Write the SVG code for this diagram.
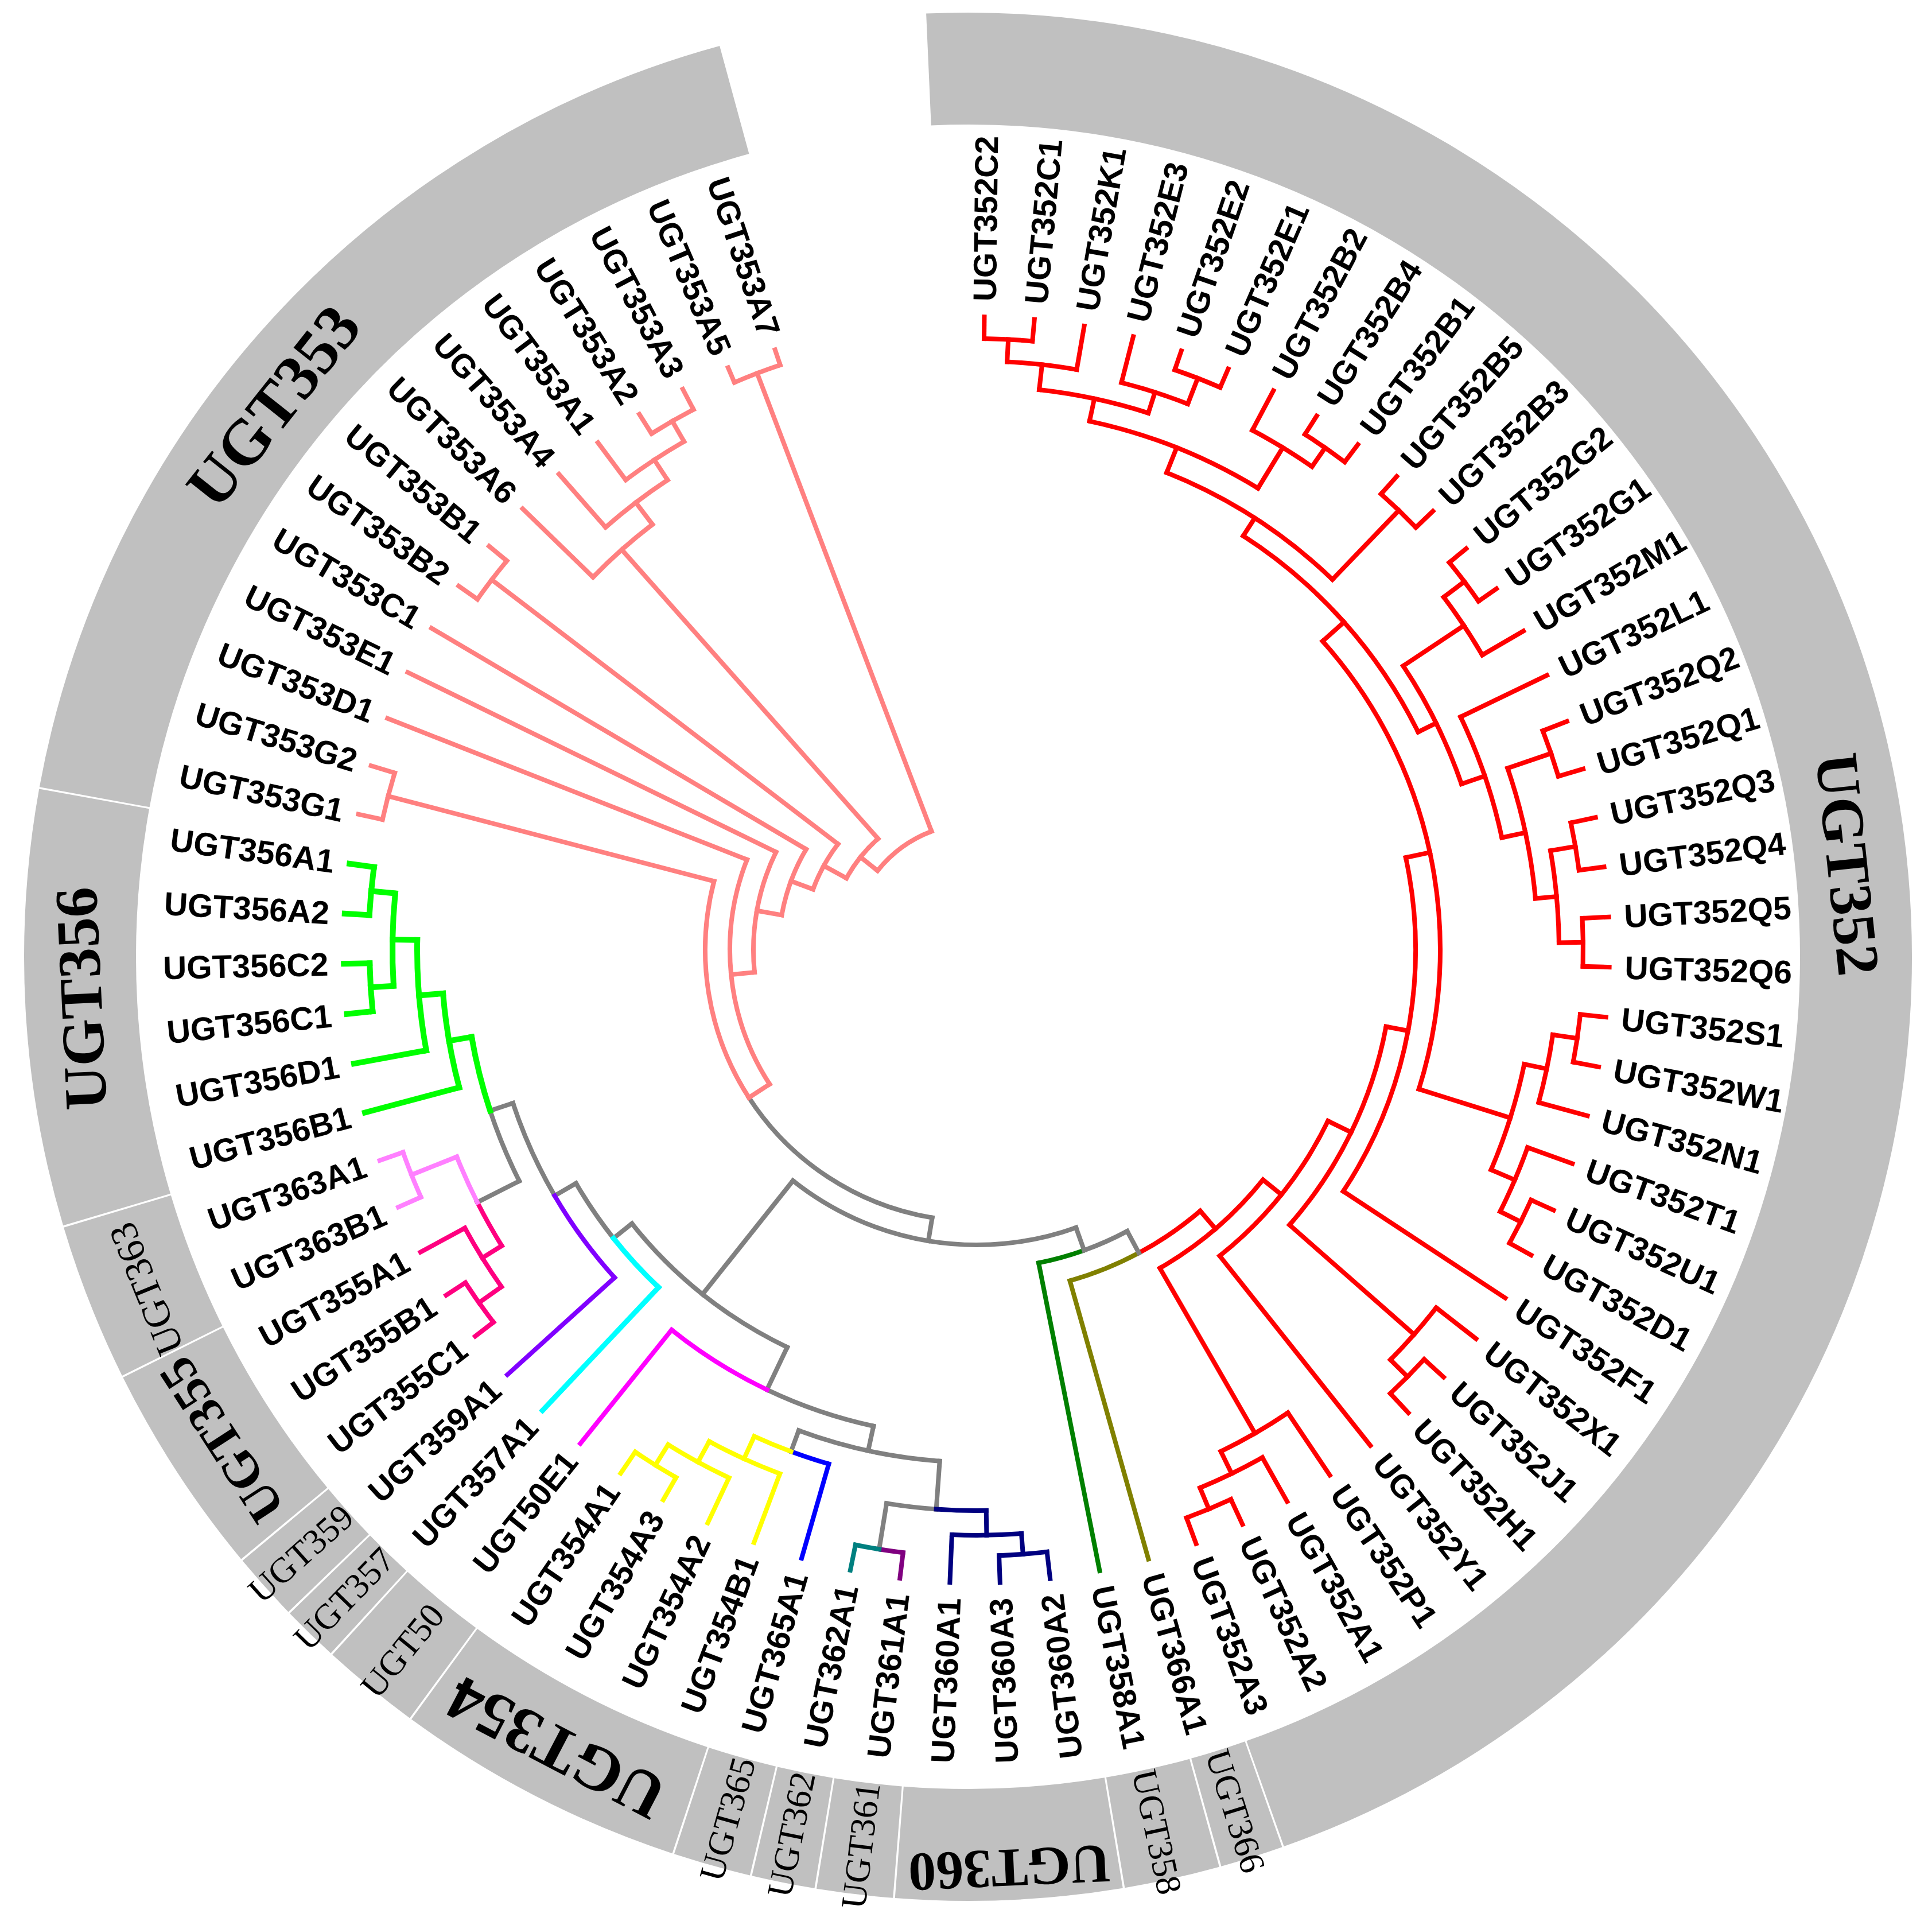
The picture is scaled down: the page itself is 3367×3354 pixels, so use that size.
<svg xmlns="http://www.w3.org/2000/svg" width="3367" height="3354" viewBox="0 0 3367 3354">
<style>
.b{fill:none;stroke-width:8;stroke-linecap:square}
.r{stroke:#ff0000}.p{stroke:#ff8080}.g{stroke:#808080}.gr{stroke:#00ff00;stroke-width:10}.lp{stroke:#ff80ff}.dp{stroke:#ff0080}
.pu{stroke:#8000ff}.cy{stroke:#00ffff;stroke-width:9}.mg{stroke:#ff00ff}.ye{stroke:#ffff00}.bl{stroke:#0000ff}.te{stroke:#008080}
.pm{stroke:#800080}.nv{stroke:#000080}.dg{stroke:#008000}.ol{stroke:#808000}
.seg{fill:none;stroke:#c0c0c0;stroke-width:195}
.lf{font-family:"Liberation Sans",Arial,sans-serif;font-weight:bold;font-size:57px;fill:#000}
.rl{font-family:"Liberation Serif","Times New Roman",serif;fill:#000;text-anchor:middle}
.big{font-weight:bold}
</style>
<rect width="3367" height="3354" fill="#fff"/>
<g id="ring" transform="translate(1687 1667)">
<g id="seg-UGT352"><circle class="seg" r="1547.5" pathLength="360" stroke-dasharray="162.98 400" transform="rotate(267.46)"/><text class="rl big" font-size="106" transform="rotate(84)" y="-1542" dy="0.34em">UGT352</text></g>
<g id="seg-UGT366"><circle class="seg" r="1547.5" pathLength="360" stroke-dasharray="3.88 400" transform="rotate(70.56)"/><text class="rl" font-size="62" transform="rotate(72.6)" x="1560" dy="0.34em">UGT366</text></g>
<g id="seg-UGT358"><circle class="seg" r="1547.5" pathLength="360" stroke-dasharray="5.88 400" transform="rotate(74.56)"/><text class="rl" font-size="62" transform="rotate(77.8)" x="1560" dy="0.34em">UGT358</text></g>
<g id="seg-UGT360"><circle class="seg" r="1547.5" pathLength="360" stroke-dasharray="13.88 400" transform="rotate(80.56)"/><text class="rl big" font-size="96" transform="rotate(177.4)" y="-1590" dy="0.34em">UGT360</text></g>
<g id="seg-UGT361"><circle class="seg" r="1547.5" pathLength="360" stroke-dasharray="4.68 400" transform="rotate(94.56)"/><text class="rl" font-size="62" transform="rotate(276.9)" x="-1560" dy="0.34em">UGT361</text></g>
<g id="seg-UGT362"><circle class="seg" r="1547.5" pathLength="360" stroke-dasharray="3.88 400" transform="rotate(99.36)"/><text class="rl" font-size="62" transform="rotate(281.4)" x="-1560" dy="0.34em">UGT362</text></g>
<g id="seg-UGT365"><circle class="seg" r="1547.5" pathLength="360" stroke-dasharray="4.78 400" transform="rotate(103.36)"/><text class="rl" font-size="62" transform="rotate(285.6)" x="-1560" dy="0.34em">UGT365</text></g>
<g id="seg-UGT354"><circle class="seg" r="1547.5" pathLength="360" stroke-dasharray="17.88 400" transform="rotate(108.26)"/><text class="rl big" font-size="112" transform="rotate(207.5)" y="-1555" dy="0.34em">UGT354</text></g>
<g id="seg-UGT50"><circle class="seg" r="1547.5" pathLength="360" stroke-dasharray="6.08 400" transform="rotate(126.26)"/><text class="rl" font-size="62" transform="rotate(309.2)" x="-1560" dy="0.34em">UGT50</text></g>
<g id="seg-UGT357"><circle class="seg" r="1547.5" pathLength="360" stroke-dasharray="3.48 400" transform="rotate(132.46)"/><text class="rl" font-size="62" transform="rotate(314.2)" x="-1560" dy="0.34em">UGT357</text></g>
<g id="seg-UGT359"><circle class="seg" r="1547.5" pathLength="360" stroke-dasharray="4.18 400" transform="rotate(136.06)"/><text class="rl" font-size="62" transform="rotate(318.2)" x="-1560" dy="0.34em">UGT359</text></g>
<g id="seg-UGT355"><circle class="seg" r="1547.5" pathLength="360" stroke-dasharray="13.18 400" transform="rotate(140.36)"/><text class="rl big" font-size="88" transform="rotate(237.1)" y="-1550" dy="0.34em">UGT355</text></g>
<g id="seg-UGT363"><circle class="seg" r="1547.5" pathLength="360" stroke-dasharray="9.68 400" transform="rotate(153.66)"/><text class="rl" font-size="68" transform="rotate(248)" y="-1545" dy="0.34em">UGT363</text></g>
<g id="seg-UGT356"><circle class="seg" r="1547.5" pathLength="360" stroke-dasharray="26.78 400" transform="rotate(163.46)"/><text class="rl big" font-size="106" transform="rotate(267.3)" y="-1548" dy="0.34em">UGT356</text></g>
<g id="seg-UGT353"><circle class="seg" r="1547.5" pathLength="360" stroke-dasharray="64.38 400" transform="rotate(190.36)"/><text class="rl big" font-size="112" transform="rotate(308.4)" y="-1545" dy="0.34em">UGT353</text></g>
</g>
<g id="tree" transform="translate(1702 1655)">
<g id="connectors" class="b">
<line class="r" y1="-1065" y2="-1103" transform="rotate(0.7)"/>
<line class="r" y1="-1065" y2="-1103" transform="rotate(5.24)"/>
<line class="r" y1="-1026" y2="-1103" transform="rotate(9.79)"/>
<line class="r" y1="-1020" y2="-1103" transform="rotate(14.33)"/>
<line class="r" y1="-1068" y2="-1103" transform="rotate(18.87)"/>
<line class="r" y1="-1068" y2="-1103" transform="rotate(23.42)"/>
<line class="r" y1="-1025" y2="-1103" transform="rotate(27.96)"/>
<line class="r" y1="-1065" y2="-1103" transform="rotate(32.5)"/>
<line class="r" y1="-1065" y2="-1103" transform="rotate(37.04)"/>
<line class="r" y1="-1062" y2="-1103" transform="rotate(41.59)"/>
<line class="r" y1="-1062" y2="-1103" transform="rotate(46.13)"/>
<line class="r" y1="-1065" y2="-1103" transform="rotate(50.67)"/>
<line class="r" y1="-1065" y2="-1103" transform="rotate(55.22)"/>
<line class="r" y1="-1020" y2="-1103" transform="rotate(59.76)"/>
<line class="r" y1="-936" y2="-1103" transform="rotate(64.3)"/>
<line class="r" y1="-1058" y2="-1103" transform="rotate(68.85)"/>
<line class="r" y1="-1058" y2="-1103" transform="rotate(73.39)"/>
<line class="r" y1="-1059" y2="-1103" transform="rotate(77.93)"/>
<line class="r" y1="-1059" y2="-1103" transform="rotate(82.47)"/>
<line class="r" y1="-1057" y2="-1103" transform="rotate(87.02)"/>
<line class="r" y1="-1057" y2="-1103" transform="rotate(91.56)"/>
<line class="r" y1="-1058" y2="-1103" transform="rotate(96.1)"/>
<line class="r" y1="-1058" y2="-1103" transform="rotate(100.65)"/>
<line class="r" y1="-1015" y2="-1103" transform="rotate(105.19)"/>
<line class="r" y1="-1020" y2="-1103" transform="rotate(109.73)"/>
<line class="r" y1="-1060" y2="-1103" transform="rotate(114.28)"/>
<line class="r" y1="-1060" y2="-1103" transform="rotate(118.82)"/>
<line class="r" y1="-765" y2="-1103" transform="rotate(123.36)"/>
<line class="r" y1="-1015" y2="-1103" transform="rotate(127.9)"/>
<line class="r" y1="-1057" y2="-1103" transform="rotate(132.45)"/>
<line class="r" y1="-1057" y2="-1103" transform="rotate(136.99)"/>
<line class="r" y1="-681" y2="-1103" transform="rotate(141.53)"/>
<line class="r" y1="-972" y2="-1103" transform="rotate(146.08)"/>
<line class="r" y1="-1015" y2="-1103" transform="rotate(150.62)"/>
<line class="r" y1="-1055" y2="-1103" transform="rotate(155.16)"/>
<line class="r" y1="-1055" y2="-1103" transform="rotate(159.71)"/>
<line class="r" y1="-1026" y2="-1065" transform="rotate(2.97)"/>
<line class="r" y1="-982" y2="-1026" transform="rotate(6.38)"/>
<line class="r" y1="-1020" y2="-1068" transform="rotate(21.15)"/>
<line class="r" y1="-982" y2="-1020" transform="rotate(17.74)"/>
<line class="r" y1="-942" y2="-982" transform="rotate(12.06)"/>
<line class="r" y1="-1025" y2="-1065" transform="rotate(34.77)"/>
<line class="r" y1="-942" y2="-1025" transform="rotate(31.37)"/>
<line class="r" y1="-895" y2="-942" transform="rotate(21.72)"/>
<line class="r" y1="-895" y2="-1062" transform="rotate(43.86)"/>
<line class="r" y1="-858" y2="-895" transform="rotate(32.79)"/>
<line class="r" y1="-1020" y2="-1065" transform="rotate(52.95)"/>
<line class="r" y1="-893" y2="-1020" transform="rotate(56.36)"/>
<line class="r" y1="-978" y2="-1058" transform="rotate(71.12)"/>
<line class="r" y1="-1015" y2="-1059" transform="rotate(80.2)"/>
<line class="r" y1="-1015" y2="-1057" transform="rotate(89.29)"/>
<line class="r" y1="-978" y2="-1015" transform="rotate(84.75)"/>
<line class="r" y1="-936" y2="-978" transform="rotate(77.94)"/>
<line class="r" y1="-893" y2="-936" transform="rotate(71.12)"/>
<line class="r" y1="-858" y2="-893" transform="rotate(63.74)"/>
<line class="r" y1="-808" y2="-858" transform="rotate(48.27)"/>
<line class="r" y1="-1015" y2="-1058" transform="rotate(98.38)"/>
<line class="r" y1="-975" y2="-1015" transform="rotate(101.79)"/>
<line class="r" y1="-1020" y2="-1060" transform="rotate(116.55)"/>
<line class="r" y1="-975" y2="-1020" transform="rotate(113.14)"/>
<line class="r" y1="-808" y2="-975" transform="rotate(107.47)"/>
<line class="r" y1="-765" y2="-808" transform="rotate(77.87)"/>
<line class="r" y1="-726" y2="-765" transform="rotate(100.62)"/>
<line class="r" y1="-1015" y2="-1057" transform="rotate(134.72)"/>
<line class="r" y1="-726" y2="-1015" transform="rotate(131.31)"/>
<line class="r" y1="-681" y2="-726" transform="rotate(115.97)"/>
<line class="r" y1="-640" y2="-681" transform="rotate(128.75)"/>
<line class="r" y1="-1015" y2="-1055" transform="rotate(157.44)"/>
<line class="r" y1="-972" y2="-1015" transform="rotate(154.03)"/>
<line class="r" y1="-640" y2="-972" transform="rotate(150.06)"/>
<line class="r" y1="-599" y2="-640" transform="rotate(139.41)"/>
<circle class="r" r="1065" pathLength="360" stroke-dasharray="4.54 400" transform="rotate(-89.3)"/>
<circle class="r" r="1026" pathLength="360" stroke-dasharray="6.82 400" transform="rotate(-87.03)"/>
<circle class="r" r="1068" pathLength="360" stroke-dasharray="4.55 400" transform="rotate(-71.13)"/>
<circle class="r" r="1020" pathLength="360" stroke-dasharray="6.82 400" transform="rotate(-75.67)"/>
<circle class="r" r="982" pathLength="360" stroke-dasharray="11.36 400" transform="rotate(-83.62)"/>
<circle class="r" r="1065" pathLength="360" stroke-dasharray="4.54 400" transform="rotate(-57.5)"/>
<circle class="r" r="1025" pathLength="360" stroke-dasharray="6.81 400" transform="rotate(-62.04)"/>
<circle class="r" r="942" pathLength="360" stroke-dasharray="19.31 400" transform="rotate(-77.94)"/>
<circle class="r" r="1062" pathLength="360" stroke-dasharray="4.54 400" transform="rotate(-48.41)"/>
<circle class="r" r="895" pathLength="360" stroke-dasharray="22.14 400" transform="rotate(-68.28)"/>
<circle class="r" r="1065" pathLength="360" stroke-dasharray="4.55 400" transform="rotate(-39.33)"/>
<circle class="r" r="1020" pathLength="360" stroke-dasharray="6.81 400" transform="rotate(-37.05)"/>
<circle class="r" r="1058" pathLength="360" stroke-dasharray="4.54 400" transform="rotate(-21.15)"/>
<circle class="r" r="1059" pathLength="360" stroke-dasharray="4.54 400" transform="rotate(-12.07)"/>
<circle class="r" r="1057" pathLength="360" stroke-dasharray="4.54 400" transform="rotate(-2.98)"/>
<circle class="r" r="1015" pathLength="360" stroke-dasharray="9.09 400" transform="rotate(-9.8)"/>
<circle class="r" r="978" pathLength="360" stroke-dasharray="13.63 400" transform="rotate(-18.88)"/>
<circle class="r" r="936" pathLength="360" stroke-dasharray="13.64 400" transform="rotate(-25.7)"/>
<circle class="r" r="893" pathLength="360" stroke-dasharray="14.76 400" transform="rotate(-33.64)"/>
<circle class="r" r="858" pathLength="360" stroke-dasharray="30.95 400" transform="rotate(-57.21)"/>
<circle class="r" r="1058" pathLength="360" stroke-dasharray="4.55 400" transform="rotate(6.1)"/>
<circle class="r" r="1015" pathLength="360" stroke-dasharray="6.81 400" transform="rotate(8.38)"/>
<circle class="r" r="1060" pathLength="360" stroke-dasharray="4.54 400" transform="rotate(24.28)"/>
<circle class="r" r="1020" pathLength="360" stroke-dasharray="6.82 400" transform="rotate(19.73)"/>
<circle class="r" r="975" pathLength="360" stroke-dasharray="11.35 400" transform="rotate(11.79)"/>
<circle class="r" r="808" pathLength="360" stroke-dasharray="59.2 400" transform="rotate(-41.73)"/>
<circle class="r" r="765" pathLength="360" stroke-dasharray="45.49 400" transform="rotate(-12.13)"/>
<circle class="r" r="1057" pathLength="360" stroke-dasharray="4.54 400" transform="rotate(42.45)"/>
<circle class="r" r="1015" pathLength="360" stroke-dasharray="6.82 400" transform="rotate(37.9)"/>
<circle class="r" r="726" pathLength="360" stroke-dasharray="30.69 400" transform="rotate(10.62)"/>
<circle class="r" r="681" pathLength="360" stroke-dasharray="25.56 400" transform="rotate(25.97)"/>
<circle class="r" r="1055" pathLength="360" stroke-dasharray="4.55 400" transform="rotate(65.16)"/>
<circle class="r" r="1015" pathLength="360" stroke-dasharray="6.82 400" transform="rotate(60.62)"/>
<circle class="r" r="972" pathLength="360" stroke-dasharray="7.95 400" transform="rotate(56.08)"/>
<circle class="r" r="640" pathLength="360" stroke-dasharray="21.31 400" transform="rotate(38.75)"/>
<circle class="r" r="599" pathLength="360" stroke-dasharray="12.42 400" transform="rotate(49.41)"/>
<circle class="ol" r="599" pathLength="360" stroke-dasharray="12.42 400" transform="rotate(61.83)"/>
<line class="ol" y1="-599" y2="-1103" transform="rotate(164.25)"/>
<circle class="dg" r="556" pathLength="360" stroke-dasharray="8.48 400" transform="rotate(70.31)"/>
<line class="dg" y1="-556" y2="-1103" transform="rotate(168.79)"/>
<circle class="g" r="556" pathLength="360" stroke-dasharray="8.48 400" transform="rotate(61.83)"/>
<line class="g" y1="-556" y2="-599" transform="rotate(151.83)"/>
<line class="g" y1="-514" y2="-556" transform="rotate(160.31)"/>
<circle class="g" r="514" pathLength="360" stroke-dasharray="58.21 400" transform="rotate(70.31)"/>
<line class="g" y1="-473" y2="-514" transform="rotate(189.42)"/>
<circle class="g" r="473" pathLength="360" stroke-dasharray="47.61 400" transform="rotate(99.42)"/>
<line class="g" y1="-514" y2="-767" transform="rotate(218.52)"/>
<circle class="g" r="767" pathLength="360" stroke-dasharray="26.06 400" transform="rotate(115.49)"/>
<line class="g" y1="-767" y2="-849" transform="rotate(205.49)"/>
<circle class="g" r="849" pathLength="360" stroke-dasharray="13.27 400" transform="rotate(102.22)"/>
<line class="g" y1="-849" y2="-893" transform="rotate(192.22)"/>
<circle class="g" r="893" pathLength="360" stroke-dasharray="16.18 400" transform="rotate(94.13)"/>
<line class="g" y1="-893" y2="-932" transform="rotate(200.31)"/>
<line class="g" y1="-893" y2="-977" transform="rotate(184.13)"/>
<circle class="g" r="977" pathLength="360" stroke-dasharray="5.11 400" transform="rotate(94.13)"/>
<line class="g" y1="-977" y2="-1058" transform="rotate(189.24)"/>
<line class="g" y1="-767" y2="-808" transform="rotate(231.55)"/>
<circle class="g" r="808" pathLength="360" stroke-dasharray="8.23 400" transform="rotate(141.55)"/>
<line class="g" y1="-808" y2="-851" transform="rotate(239.78)"/>
<circle class="g" r="851" pathLength="360" stroke-dasharray="11.93 400" transform="rotate(149.78)"/>
<line class="g" y1="-851" y2="-893" transform="rotate(251.71)"/>
<circle class="g" r="893" pathLength="360" stroke-dasharray="8.52 400" transform="rotate(153.19)"/>
<line class="g" y1="-893" y2="-975" transform="rotate(243.19)"/>
<circle class="mg" r="849" pathLength="360" stroke-dasharray="13.27 400" transform="rotate(115.49)"/>
<line class="mg" y1="-849" y2="-1103" transform="rotate(218.76)"/>
<circle class="cy" r="808" pathLength="360" stroke-dasharray="8.24 400" transform="rotate(133.31)"/>
<line class="cy" y1="-808" y2="-1103" transform="rotate(223.31)"/>
<circle class="pu" r="851" pathLength="360" stroke-dasharray="11.93 400" transform="rotate(137.85)"/>
<line class="pu" y1="-851" y2="-1103" transform="rotate(227.85)"/>
<circle class="bl" r="932" pathLength="360" stroke-dasharray="4.26 400" transform="rotate(106.05)"/>
<line class="bl" y1="-932" y2="-1103" transform="rotate(196.05)"/>
<circle class="ye" r="932" pathLength="360" stroke-dasharray="4.26 400" transform="rotate(110.31)"/>
<line class="ye" y1="-932" y2="-975" transform="rotate(204.57)"/>
<circle class="ye" r="975" pathLength="360" stroke-dasharray="7.96 400" transform="rotate(110.59)"/>
<line class="ye" y1="-975" y2="-1103" transform="rotate(200.59)"/>
<line class="ye" y1="-975" y2="-1016" transform="rotate(208.55)"/>
<circle class="ye" r="1016" pathLength="360" stroke-dasharray="6.81 400" transform="rotate(115.14)"/>
<line class="ye" y1="-1016" y2="-1103" transform="rotate(205.14)"/>
<line class="ye" y1="-1016" y2="-1058" transform="rotate(211.95)"/>
<circle class="ye" r="1058" pathLength="360" stroke-dasharray="4.54 400" transform="rotate(119.68)"/>
<line class="ye" y1="-1058" y2="-1103" transform="rotate(209.68)"/>
<line class="ye" y1="-1058" y2="-1103" transform="rotate(214.22)"/>
<circle class="nv" r="977" pathLength="360" stroke-dasharray="5.11 400" transform="rotate(89.02)"/>
<line class="nv" y1="-977" y2="-1020" transform="rotate(179.02)"/>
<circle class="nv" r="1020" pathLength="360" stroke-dasharray="6.81 400" transform="rotate(85.61)"/>
<line class="nv" y1="-1020" y2="-1103" transform="rotate(182.42)"/>
<line class="nv" y1="-1020" y2="-1056" transform="rotate(175.61)"/>
<circle class="nv" r="1056" pathLength="360" stroke-dasharray="4.55 400" transform="rotate(83.33)"/>
<line class="nv" y1="-1056" y2="-1103" transform="rotate(173.33)"/>
<line class="nv" y1="-1056" y2="-1103" transform="rotate(177.88)"/>
<circle class="pm" r="1058" pathLength="360" stroke-dasharray="2.28 400" transform="rotate(96.96)"/>
<line class="pm" y1="-1058" y2="-1103" transform="rotate(186.96)"/>
<circle class="te" r="1058" pathLength="360" stroke-dasharray="2.27 400" transform="rotate(99.24)"/>
<line class="te" y1="-1058" y2="-1103" transform="rotate(191.51)"/>
<circle class="dp" r="975" pathLength="360" stroke-dasharray="5.11 400" transform="rotate(148.08)"/>
<line class="dp" y1="-975" y2="-1015" transform="rotate(238.08)"/>
<circle class="dp" r="1015" pathLength="360" stroke-dasharray="6.81 400" transform="rotate(144.67)"/>
<line class="dp" y1="-1015" y2="-1103" transform="rotate(241.48)"/>
<line class="dp" y1="-1015" y2="-1063" transform="rotate(234.67)"/>
<circle class="dp" r="1063" pathLength="360" stroke-dasharray="4.55 400" transform="rotate(142.39)"/>
<line class="dp" y1="-1063" y2="-1103" transform="rotate(232.39)"/>
<line class="dp" y1="-1063" y2="-1103" transform="rotate(236.94)"/>
<circle class="lp" r="975" pathLength="360" stroke-dasharray="5.11 400" transform="rotate(153.19)"/>
<line class="lp" y1="-975" y2="-1060" transform="rotate(248.3)"/>
<circle class="lp" r="1060" pathLength="360" stroke-dasharray="4.55 400" transform="rotate(156.02)"/>
<line class="lp" y1="-1060" y2="-1103" transform="rotate(246.02)"/>
<line class="lp" y1="-1060" y2="-1103" transform="rotate(250.57)"/>
<circle class="gr" r="893" pathLength="360" stroke-dasharray="8.51 400" transform="rotate(161.71)"/>
<line class="gr" y1="-893" y2="-933" transform="rotate(260.22)"/>
<circle class="gr" r="933" pathLength="360" stroke-dasharray="10.22 400" transform="rotate(165.11)"/>
<line class="gr" y1="-933" y2="-1103" transform="rotate(255.11)"/>
<line class="gr" y1="-933" y2="-975" transform="rotate(265.33)"/>
<circle class="gr" r="975" pathLength="360" stroke-dasharray="11.36 400" transform="rotate(169.65)"/>
<line class="gr" y1="-975" y2="-1103" transform="rotate(259.65)"/>
<line class="gr" y1="-975" y2="-1018" transform="rotate(271.01)"/>
<circle class="gr" r="1018" pathLength="360" stroke-dasharray="9.08 400" transform="rotate(176.47)"/>
<line class="gr" y1="-1018" y2="-1058" transform="rotate(266.47)"/>
<line class="gr" y1="-1018" y2="-1060" transform="rotate(275.55)"/>
<circle class="gr" r="1058" pathLength="360" stroke-dasharray="4.55 400" transform="rotate(174.19)"/>
<circle class="gr" r="1060" pathLength="360" stroke-dasharray="4.54 400" transform="rotate(183.28)"/>
<line class="gr" y1="-1058" y2="-1103" transform="rotate(264.19)"/>
<line class="gr" y1="-1058" y2="-1103" transform="rotate(268.74)"/>
<line class="gr" y1="-1060" y2="-1103" transform="rotate(273.28)"/>
<line class="gr" y1="-1060" y2="-1103" transform="rotate(277.82)"/>
<circle class="p" r="473" pathLength="360" stroke-dasharray="47.61 400" transform="rotate(147.03)"/>
<line class="p" y1="-430" y2="-473" transform="rotate(237.03)"/>
<line class="p" y1="-473" y2="-1060" transform="rotate(284.64)"/>
<circle class="p" r="1060" pathLength="360" stroke-dasharray="4.54 400" transform="rotate(192.37)"/>
<line class="p" y1="-1060" y2="-1103" transform="rotate(282.37)"/>
<line class="p" y1="-1060" y2="-1103" transform="rotate(286.91)"/>
<circle class="p" r="430" pathLength="360" stroke-dasharray="54.42 400" transform="rotate(147.03)"/>
<line class="p" y1="-430" y2="-1103" transform="rotate(291.45)"/>
<line class="p" y1="-389" y2="-430" transform="rotate(264.24)"/>
<circle class="p" r="389" pathLength="360" stroke-dasharray="31.76 400" transform="rotate(174.24)"/>
<line class="p" y1="-389" y2="-1103" transform="rotate(296)"/>
<line class="p" y1="-345" y2="-389" transform="rotate(280.12)"/>
<circle class="p" r="345" pathLength="360" stroke-dasharray="20.42 400" transform="rotate(190.12)"/>
<line class="p" y1="-345" y2="-1103" transform="rotate(300.54)"/>
<line class="p" y1="-304" y2="-345" transform="rotate(290.33)"/>
<circle class="p" r="304" pathLength="360" stroke-dasharray="17.02 400" transform="rotate(200.33)"/>
<line class="p" y1="-304" y2="-1063" transform="rotate(307.35)"/>
<circle class="p" r="1063" pathLength="360" stroke-dasharray="4.54 400" transform="rotate(215.08)"/>
<line class="p" y1="-1063" y2="-1103" transform="rotate(305.08)"/>
<line class="p" y1="-1063" y2="-1103" transform="rotate(309.62)"/>
<line class="p" y1="-259" y2="-304" transform="rotate(298.84)"/>
<circle class="p" r="259" pathLength="360" stroke-dasharray="19.59 400" transform="rotate(208.84)"/>
<line class="p" y1="-259" y2="-932" transform="rotate(318.43)"/>
<circle class="p" r="932" pathLength="360" stroke-dasharray="8.52 400" transform="rotate(224.17)"/>
<line class="p" y1="-932" y2="-1103" transform="rotate(314.17)"/>
<line class="p" y1="-932" y2="-980" transform="rotate(322.69)"/>
<circle class="p" r="980" pathLength="360" stroke-dasharray="7.95 400" transform="rotate(228.71)"/>
<line class="p" y1="-980" y2="-1103" transform="rotate(318.71)"/>
<line class="p" y1="-980" y2="-1022" transform="rotate(326.66)"/>
<circle class="p" r="1022" pathLength="360" stroke-dasharray="6.82 400" transform="rotate(233.25)"/>
<line class="p" y1="-1022" y2="-1103" transform="rotate(323.25)"/>
<line class="p" y1="-1022" y2="-1063" transform="rotate(330.07)"/>
<circle class="p" r="1063" pathLength="360" stroke-dasharray="4.54 400" transform="rotate(237.8)"/>
<line class="p" y1="-1063" y2="-1103" transform="rotate(327.8)"/>
<line class="p" y1="-1063" y2="-1103" transform="rotate(332.34)"/>
<line class="p" y1="-221" y2="-259" transform="rotate(308.64)"/>
<circle class="p" r="221" pathLength="360" stroke-dasharray="30.52 400" transform="rotate(218.64)"/>
<line class="p" y1="-221" y2="-1075" transform="rotate(339.16)"/>
<circle class="p" r="1075" pathLength="360" stroke-dasharray="4.55 400" transform="rotate(246.88)"/>
<line class="p" y1="-1075" y2="-1103" transform="rotate(336.88)"/>
<line class="p" y1="-1075" y2="-1103" transform="rotate(341.43)"/>
</g>
<g id="leaves" class="lf">
<g id="n-UGT352C2"><text transform="rotate(-89.3)" x="1130" dy="0.35em">UGT352C2</text></g>
<g id="n-UGT352C1"><text transform="rotate(-84.76)" x="1130" dy="0.35em">UGT352C1</text></g>
<g id="n-UGT352K1"><text transform="rotate(-80.21)" x="1130" dy="0.35em">UGT352K1</text></g>
<g id="n-UGT352E3"><text transform="rotate(-75.67)" x="1130" dy="0.35em">UGT352E3</text></g>
<g id="n-UGT352E2"><text transform="rotate(-71.13)" x="1130" dy="0.35em">UGT352E2</text></g>
<g id="n-UGT352E1"><text transform="rotate(-66.58)" x="1130" dy="0.35em">UGT352E1</text></g>
<g id="n-UGT352B2"><text transform="rotate(-62.04)" x="1130" dy="0.35em">UGT352B2</text></g>
<g id="n-UGT352B4"><text transform="rotate(-57.5)" x="1130" dy="0.35em">UGT352B4</text></g>
<g id="n-UGT352B1"><text transform="rotate(-52.96)" x="1130" dy="0.35em">UGT352B1</text></g>
<g id="n-UGT352B5"><text transform="rotate(-48.41)" x="1130" dy="0.35em">UGT352B5</text></g>
<g id="n-UGT352B3"><text transform="rotate(-43.87)" x="1130" dy="0.35em">UGT352B3</text></g>
<g id="n-UGT352G2"><text transform="rotate(-39.33)" x="1130" dy="0.35em">UGT352G2</text></g>
<g id="n-UGT352G1"><text transform="rotate(-34.78)" x="1130" dy="0.35em">UGT352G1</text></g>
<g id="n-UGT352M1"><text transform="rotate(-30.24)" x="1130" dy="0.35em">UGT352M1</text></g>
<g id="n-UGT352L1"><text transform="rotate(-25.7)" x="1130" dy="0.35em">UGT352L1</text></g>
<g id="n-UGT352Q2"><text transform="rotate(-21.15)" x="1130" dy="0.35em">UGT352Q2</text></g>
<g id="n-UGT352Q1"><text transform="rotate(-16.61)" x="1130" dy="0.35em">UGT352Q1</text></g>
<g id="n-UGT352Q3"><text transform="rotate(-12.07)" x="1130" dy="0.35em">UGT352Q3</text></g>
<g id="n-UGT352Q4"><text transform="rotate(-7.53)" x="1130" dy="0.35em">UGT352Q4</text></g>
<g id="n-UGT352Q5"><text transform="rotate(-2.98)" x="1130" dy="0.35em">UGT352Q5</text></g>
<g id="n-UGT352Q6"><text transform="rotate(1.56)" x="1130" dy="0.35em">UGT352Q6</text></g>
<g id="n-UGT352S1"><text transform="rotate(6.1)" x="1130" dy="0.35em">UGT352S1</text></g>
<g id="n-UGT352W1"><text transform="rotate(10.65)" x="1130" dy="0.35em">UGT352W1</text></g>
<g id="n-UGT352N1"><text transform="rotate(15.19)" x="1130" dy="0.35em">UGT352N1</text></g>
<g id="n-UGT352T1"><text transform="rotate(19.73)" x="1130" dy="0.35em">UGT352T1</text></g>
<g id="n-UGT352U1"><text transform="rotate(24.28)" x="1130" dy="0.35em">UGT352U1</text></g>
<g id="n-UGT352D1"><text transform="rotate(28.82)" x="1130" dy="0.35em">UGT352D1</text></g>
<g id="n-UGT352F1"><text transform="rotate(33.36)" x="1130" dy="0.35em">UGT352F1</text></g>
<g id="n-UGT352X1"><text transform="rotate(37.9)" x="1130" dy="0.35em">UGT352X1</text></g>
<g id="n-UGT352J1"><text transform="rotate(42.45)" x="1130" dy="0.35em">UGT352J1</text></g>
<g id="n-UGT352H1"><text transform="rotate(46.99)" x="1130" dy="0.35em">UGT352H1</text></g>
<g id="n-UGT352Y1"><text transform="rotate(51.53)" x="1130" dy="0.35em">UGT352Y1</text></g>
<g id="n-UGT352P1"><text transform="rotate(56.08)" x="1130" dy="0.35em">UGT352P1</text></g>
<g id="n-UGT352A1"><text transform="rotate(60.62)" x="1130" dy="0.35em">UGT352A1</text></g>
<g id="n-UGT352A2"><text transform="rotate(65.16)" x="1130" dy="0.35em">UGT352A2</text></g>
<g id="n-UGT352A3"><text transform="rotate(69.71)" x="1130" dy="0.35em">UGT352A3</text></g>
<g id="n-UGT366A1"><text transform="rotate(74.25)" x="1130" dy="0.35em">UGT366A1</text></g>
<g id="n-UGT358A1"><text transform="rotate(78.79)" x="1130" dy="0.35em">UGT358A1</text></g>
<g id="n-UGT360A2"><text transform="rotate(263.33)" x="-1130" text-anchor="end" dy="0.35em">UGT360A2</text></g>
<g id="n-UGT360A3"><text transform="rotate(267.88)" x="-1130" text-anchor="end" dy="0.35em">UGT360A3</text></g>
<g id="n-UGT360A1"><text transform="rotate(272.42)" x="-1130" text-anchor="end" dy="0.35em">UGT360A1</text></g>
<g id="n-UGT361A1"><text transform="rotate(276.96)" x="-1130" text-anchor="end" dy="0.35em">UGT361A1</text></g>
<g id="n-UGT362A1"><text transform="rotate(281.51)" x="-1130" text-anchor="end" dy="0.35em">UGT362A1</text></g>
<g id="n-UGT365A1"><text transform="rotate(286.05)" x="-1130" text-anchor="end" dy="0.35em">UGT365A1</text></g>
<g id="n-UGT354B1"><text transform="rotate(290.59)" x="-1130" text-anchor="end" dy="0.35em">UGT354B1</text></g>
<g id="n-UGT354A2"><text transform="rotate(295.14)" x="-1130" text-anchor="end" dy="0.35em">UGT354A2</text></g>
<g id="n-UGT354A3"><text transform="rotate(299.68)" x="-1130" text-anchor="end" dy="0.35em">UGT354A3</text></g>
<g id="n-UGT354A1"><text transform="rotate(304.22)" x="-1130" text-anchor="end" dy="0.35em">UGT354A1</text></g>
<g id="n-UGT50E1"><text transform="rotate(308.76)" x="-1130" text-anchor="end" dy="0.35em">UGT50E1</text></g>
<g id="n-UGT357A1"><text transform="rotate(313.31)" x="-1130" text-anchor="end" dy="0.35em">UGT357A1</text></g>
<g id="n-UGT359A1"><text transform="rotate(317.85)" x="-1130" text-anchor="end" dy="0.35em">UGT359A1</text></g>
<g id="n-UGT355C1"><text transform="rotate(322.39)" x="-1130" text-anchor="end" dy="0.35em">UGT355C1</text></g>
<g id="n-UGT355B1"><text transform="rotate(326.94)" x="-1130" text-anchor="end" dy="0.35em">UGT355B1</text></g>
<g id="n-UGT355A1"><text transform="rotate(331.48)" x="-1130" text-anchor="end" dy="0.35em">UGT355A1</text></g>
<g id="n-UGT363B1"><text transform="rotate(336.02)" x="-1130" text-anchor="end" dy="0.35em">UGT363B1</text></g>
<g id="n-UGT363A1"><text transform="rotate(340.57)" x="-1130" text-anchor="end" dy="0.35em">UGT363A1</text></g>
<g id="n-UGT356B1"><text transform="rotate(345.11)" x="-1130" text-anchor="end" dy="0.35em">UGT356B1</text></g>
<g id="n-UGT356D1"><text transform="rotate(349.65)" x="-1130" text-anchor="end" dy="0.35em">UGT356D1</text></g>
<g id="n-UGT356C1"><text transform="rotate(354.19)" x="-1130" text-anchor="end" dy="0.35em">UGT356C1</text></g>
<g id="n-UGT356C2"><text transform="rotate(358.74)" x="-1130" text-anchor="end" dy="0.35em">UGT356C2</text></g>
<g id="n-UGT356A2"><text transform="rotate(363.28)" x="-1130" text-anchor="end" dy="0.35em">UGT356A2</text></g>
<g id="n-UGT356A1"><text transform="rotate(367.82)" x="-1130" text-anchor="end" dy="0.35em">UGT356A1</text></g>
<g id="n-UGT353G1"><text transform="rotate(372.37)" x="-1130" text-anchor="end" dy="0.35em">UGT353G1</text></g>
<g id="n-UGT353G2"><text transform="rotate(376.91)" x="-1130" text-anchor="end" dy="0.35em">UGT353G2</text></g>
<g id="n-UGT353D1"><text transform="rotate(381.45)" x="-1130" text-anchor="end" dy="0.35em">UGT353D1</text></g>
<g id="n-UGT353E1"><text transform="rotate(386)" x="-1130" text-anchor="end" dy="0.35em">UGT353E1</text></g>
<g id="n-UGT353C1"><text transform="rotate(390.54)" x="-1130" text-anchor="end" dy="0.35em">UGT353C1</text></g>
<g id="n-UGT353B2"><text transform="rotate(395.08)" x="-1130" text-anchor="end" dy="0.35em">UGT353B2</text></g>
<g id="n-UGT353B1"><text transform="rotate(399.62)" x="-1130" text-anchor="end" dy="0.35em">UGT353B1</text></g>
<g id="n-UGT353A6"><text transform="rotate(404.17)" x="-1130" text-anchor="end" dy="0.35em">UGT353A6</text></g>
<g id="n-UGT353A4"><text transform="rotate(408.71)" x="-1130" text-anchor="end" dy="0.35em">UGT353A4</text></g>
<g id="n-UGT353A1"><text transform="rotate(413.25)" x="-1130" text-anchor="end" dy="0.35em">UGT353A1</text></g>
<g id="n-UGT353A2"><text transform="rotate(417.8)" x="-1130" text-anchor="end" dy="0.35em">UGT353A2</text></g>
<g id="n-UGT353A3"><text transform="rotate(422.34)" x="-1130" text-anchor="end" dy="0.35em">UGT353A3</text></g>
<g id="n-UGT353A5"><text transform="rotate(426.88)" x="-1130" text-anchor="end" dy="0.35em">UGT353A5</text></g>
<g id="n-UGT353A7"><text transform="rotate(431.43)" x="-1130" text-anchor="end" dy="0.35em">UGT353A7</text></g>
</g>
</g>
</svg>
